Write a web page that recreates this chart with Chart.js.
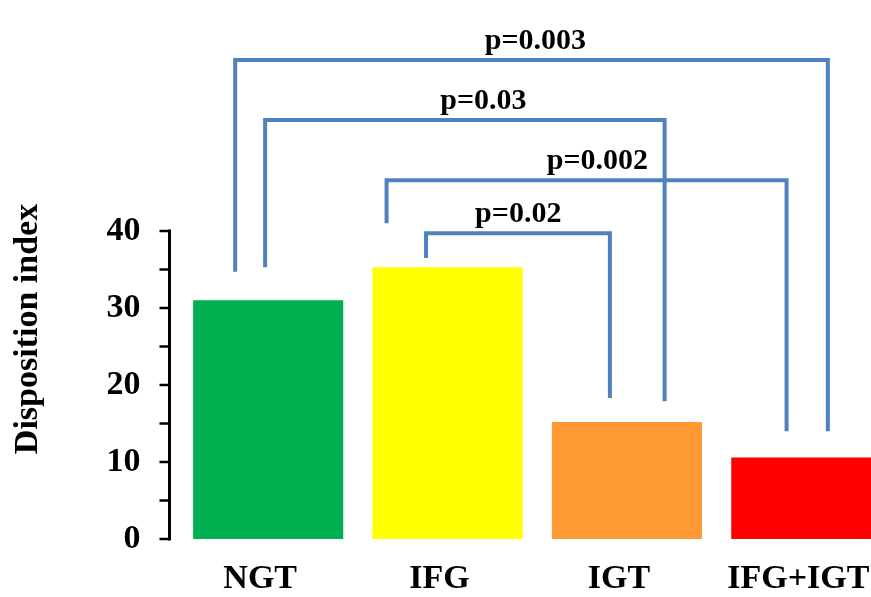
<!DOCTYPE html>
<html lang="en">
<head>
<meta charset="UTF-8">
<title>Disposition index</title>
<script src="https://cdn.jsdelivr.net/npm/chart.js"></script>
<style>
  html, body { margin: 0; padding: 0; background: #fff; overflow: hidden; }
  #wrap { width: 896px; height: 597px; }
</style>
</head>
<body>
<div id="wrap"><canvas id="chart"></canvas></div>
<script>
// groups and values
const groups = ['NGT', 'IFG', 'IGT', 'IFG+IGT'];
const dispositionIndex = [31.0, 35.3, 15.2, 10.6];
const barColors = ['#00B050', '#FFFF00', '#FF9933', '#FF0000'];
const yTickValues = [0, 5, 10, 15, 20, 25, 30, 35, 40];
const yTitle = 'Disposition index';

// significance brackets (group index pairs, p value text, bracket level in y units)
const pairFrom = [0, 0, 1, 1];
const pairTo = [3, 2, 3, 2];
const pLabels = ['p=0.003', 'p=0.03', 'p=0.002', 'p=0.02'];
const pairLevel = [62.2, 54.4, 46.6, 39.7];
const fromEnd = [34.7, 35.3, 41.0, 36.5];
const toEnd = [14.0, 17.9, 14.0, 18.3];

// where each bracket leg sits relative to its bar centre (in category widths)
const bracketStyle = {
  fromOff: [-0.184, -0.017, -0.34, -0.12],
  toOff: [0.12, 0.21, -0.11, -0.095],
  labelAt: [1.49, 1.20, 1.835, 1.394],
  color: '#4F81BD',
  width: 4
};

const serif = '"Liberation Serif", "Times New Roman", serif';

const drawExtras = {
  id: 'drawExtras',
  afterDatasetsDraw(chart) {
    const { ctx, scales: { x, y } } = chart;
    const step = x.getPixelForValue(1) - x.getPixelForValue(0);
    const gx = (i, off) => x.getPixelForValue(i) + off * step;

    ctx.save();
    // y axis line with ticks, only from 0 to 40
    const ax = chart.chartArea.left - 9;
    ctx.strokeStyle = '#000';
    ctx.lineWidth = 3;
    ctx.beginPath();
    ctx.moveTo(ax, y.getPixelForValue(0) + 1.5);
    ctx.lineTo(ax, y.getPixelForValue(40) - 1.5);
    ctx.stroke();
    ctx.lineWidth = 2.5;
    yTickValues.forEach(v => {
      const py = y.getPixelForValue(v);
      ctx.beginPath();
      ctx.moveTo(ax - 10, py);
      ctx.lineTo(ax, py);
      ctx.stroke();
    });

    // axis title
    ctx.fillStyle = '#000';
    ctx.save();
    ctx.translate(28, 329);
    ctx.rotate(-Math.PI / 2);
    ctx.font = 'bold 34px ' + serif;
    ctx.textAlign = 'center';
    ctx.textBaseline = 'middle';
    ctx.fillText(yTitle, 0, 0);
    ctx.restore();

    // brackets
    ctx.strokeStyle = bracketStyle.color;
    ctx.lineWidth = bracketStyle.width;
    ctx.lineJoin = 'miter';
    ctx.lineCap = 'butt';
    pairFrom.forEach((f, i) => {
      const x1 = gx(f, bracketStyle.fromOff[i]);
      const x2 = gx(pairTo[i], bracketStyle.toOff[i]);
      const top = y.getPixelForValue(pairLevel[i]);
      ctx.beginPath();
      ctx.moveTo(x1, y.getPixelForValue(fromEnd[i]));
      ctx.lineTo(x1, top);
      ctx.lineTo(x2, top);
      ctx.lineTo(x2, y.getPixelForValue(toEnd[i]));
      ctx.stroke();
    });

    ctx.font = 'bold 30px ' + serif;
    ctx.textAlign = 'center';
    ctx.textBaseline = 'alphabetic';
    pLabels.forEach((t, i) => {
      const lx = x.getPixelForValue(0) + bracketStyle.labelAt[i] * step;
      ctx.fillText(t, lx, y.getPixelForValue(pairLevel[i]) - 11);
    });
    ctx.restore();
  }
};

new Chart(document.getElementById('chart'), {
  type: 'bar',
  data: {
    labels: groups,
    datasets: [{
      data: dispositionIndex,
      backgroundColor: barColors,
      borderWidth: 0,
      categoryPercentage: 1,
      barPercentage: 0.837
    }]
  },
  options: {
    responsive: true,
    maintainAspectRatio: false,
    animation: false,
    layout: { padding: 0 },
    plugins: { legend: { display: false }, tooltip: { enabled: false } },
    scales: {
      x: {
        grid: { display: false, drawTicks: false },
        border: { display: false },
        afterFit: s => { s.paddingLeft = 0; s.paddingRight = 0; s.height = 58; },
        ticks: {
          color: '#000',
          padding: 22,
          labelOffset: -8,
          font: { family: serif, weight: 'bold', size: 34, lineHeight: 1.05 }
        }
      },
      y: {
        min: 0,
        max: 70,
        afterBuildTicks: scale => { scale.ticks = yTickValues.map(v => ({ value: v })); },
        afterFit: s => { s.paddingTop = 0; s.paddingBottom = 0; s.width = 178.5; },
        grid: { display: false, drawTicks: false },
        border: { display: false },
        ticks: {
          color: '#000',
          padding: 38,
          font: { family: serif, weight: 'bold', size: 34 },
          callback: v => (v % 10 === 0 ? v : '')
        }
      }
    }
  },
  plugins: [drawExtras]
});
</script>
</body>
</html>
